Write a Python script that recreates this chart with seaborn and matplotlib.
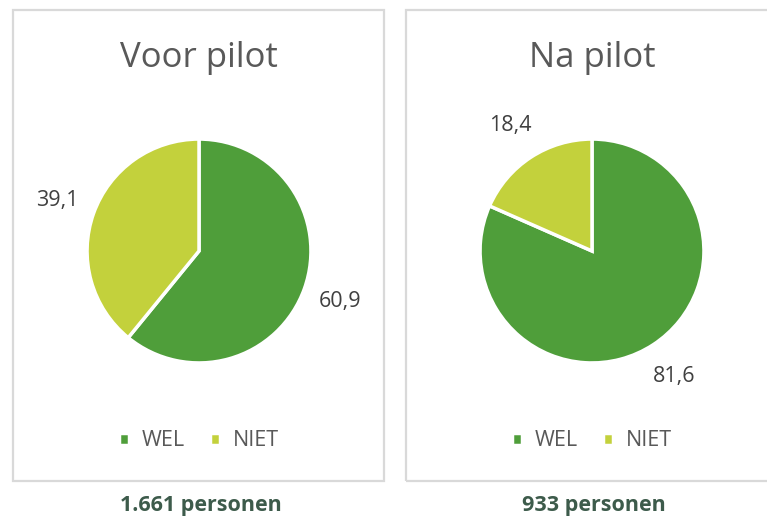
import matplotlib
matplotlib.use("Agg")
import matplotlib.pyplot as plt
from matplotlib.patches import Rectangle
import seaborn as sns

# ---- data ----
categories = ["WEL", "NIET"]
titles = ["Voor pilot", "Na pilot"]
voor_values = [60.9, 39.1]
na_values = [81.6, 18.4]
label_texts_voor = ["60,9", "39,1"]
label_texts_na = ["81,6", "18,4"]
footers = ["1.661 personen", "933 personen"]

sns.set_theme(style="white")
plt.rcParams["font.family"] = ["Open Sans", "DejaVu Sans"]

colors = ["#4F9E3A", "#C3D13C"]
text_col = "#595959"

W, H = 767, 521
fig = plt.figure(figsize=(W / 100, H / 100), dpi=100)
fig.patch.set_facecolor("white")

def px_axes(cx, cy, size):
    # cx, cy in image pixel coords (y from top)
    return fig.add_axes([(cx - size / 2) / W, (H - cy - size / 2) / H, size / W, size / H])

boxes = [(13, 10, 371, 471), (406, 10, 380, 471)]
for (x, y, w, h) in boxes:
    fig.patches.append(Rectangle((x / W, (H - y - h) / H), w / W, h / H,
                                 transform=fig.transFigure, fill=False,
                                 edgecolor="#D9D9D9", linewidth=1.6))

panels = [(199, voor_values, label_texts_voor), (592, na_values, label_texts_na)]
for i, (cx, vals, labs) in enumerate(panels):
    ax = px_axes(cx, 251, 300)
    wedges, texts = ax.pie(vals, labels=labs, colors=colors, startangle=90,
                           counterclock=False, labeldistance=1.34,
                           wedgeprops=dict(edgecolor="white", linewidth=2.5),
                           textprops=dict(fontsize=15.5, color="#404040"))
    for t in texts:
        t.set_ha("center")
        t.set_va("center")
    ax.set_xlim(-1.34, 1.34)
    ax.set_ylim(-1.34, 1.34)
    ax.set_aspect("equal")
    ax.axis("off")
    # title
    fig.text(cx / W, (H - 58) / H, titles[i], ha="center", va="center",
             fontsize=25, color=text_col)
    # legend
    leg = fig.legend(wedges, categories, loc="center",
                     bbox_to_anchor=(cx / W, (H - 441) / H), ncol=2, frameon=False,
                     fontsize=15.5, handlelength=0.45, handleheight=0.45,
                     handletextpad=0.6, columnspacing=1.2, labelcolor=text_col)
    # footer
    fig.text((cx + 2) / W, (H - 506) / H, footers[i], ha="center", va="center",
             fontsize=15.5, fontweight="bold", color="#3D5B4B")

fig.savefig("out.png", dpi=100, facecolor="white")
